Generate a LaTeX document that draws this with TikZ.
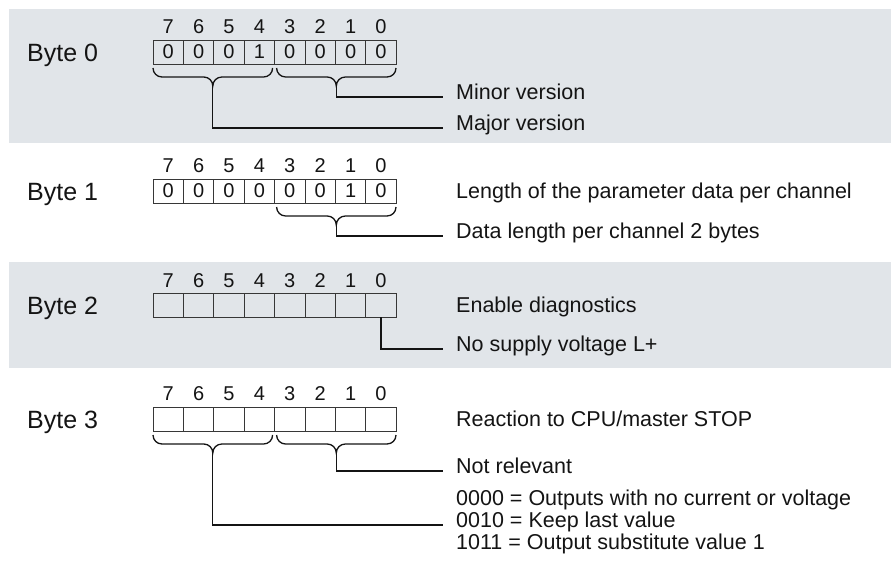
\documentclass[tikz,border=0pt]{standalone}
\usepackage{fontspec}
\setmainfont{Liberation Sans}
\definecolor{band}{RGB}{225,229,233}
\definecolor{ink}{RGB}{20,20,20}
\newcommand\bitbrace[4]{%
  \draw[conn] (#1,#3) .. controls (#1,#3+5) and (#1+4,#3+9) .. (#1+9,#3+9)
    -- ({(#1+#2)/2-9},#3+9) .. controls ({(#1+#2)/2-4},#3+9) and ({(#1+#2)/2},#3+13) .. ({(#1+#2)/2},#3+18)
    .. controls ({(#1+#2)/2},#3+13) and ({(#1+#2)/2+4},#3+9) .. ({(#1+#2)/2+9},#3+9)
    -- (#2-9,#3+9) .. controls (#2-4,#3+9) and (#2,#3+5) .. (#2,#3);
  \coordinate (#4) at ({(#1+#2)/2},#3+18);}
\newcommand\bitrow[4]{% #1 prefix, #2 box centre y, #3 numbers y, #4 values
  \foreach \v [count=\k from 0] in {#4}
    \node[cell] (#1c\k) at ({168.2+\k*30.4},#2) {\v};
  \foreach \n [count=\k from 0] in {7,6,5,4,3,2,1,0}
    \node[bitnum] (#1n\k) at ({168.2+\k*30.4},#3) {\n};}
\begin{document}
\begin{tikzpicture}[x=1pt,y=-1pt,
  cell/.style={draw=ink!85, line width=0.9pt, minimum width=30.4pt, minimum height=24pt,
    inner sep=0pt, font=\fontsize{20}{22}\selectfont, text=ink},
  bitnum/.style={inner sep=0pt, font=\fontsize{20}{22}\selectfont, text=ink},
  bytelab/.style={anchor=base west, inner sep=0pt, font=\fontsize{25}{28}\selectfont, text=ink},
  lab/.style={anchor=mid west, inner xsep=13pt, inner ysep=0pt,
    font=\fontsize{21.5}{24}\selectfont, text=ink},
  conn/.style={draw=ink, line width=1.3pt}]
\useasboundingbox (0,0) rectangle (891,574);
\fill[band] (9,9) rectangle (891,143);
\fill[band] (9,262) rectangle (891,368);

% Byte 0
\node[bytelab] (byte0) at (27,61) {Byte 0};
\bitrow{b0}{52}{27}{0,0,0,1,0,0,0,0}
\bitbrace{153}{272.6}{68}{b0tipL}
\bitbrace{276.6}{396}{68}{b0tipR}
\node[lab] (minor) at (443,97) {Minor version};
\node[lab] (major) at (443,128) {Major version};
\draw[conn] (b0tipR) |- (minor.mid west);
\draw[conn] (b0tipL) |- (major.mid west);

% Byte 1
\node[bytelab] (byte1) at (27,200) {Byte 1};
\bitrow{b1}{191}{166}{0,0,0,0,0,0,1,0}
\bitbrace{276.6}{396}{207}{b1tipR}
\node[lab] (len) at (443,196) {Length of the parameter data per channel};
\node[lab] (datalen) at (443,236) {Data length per channel 2 bytes};
\draw[conn] (b1tipR) |- (datalen.mid west);

% Byte 2
\node[bytelab] (byte2) at (27,314) {Byte 2};
\bitrow{b2}{305}{281}{{},{},{},{},{},{},{},{}}
\node[lab] (enable) at (443,310) {Enable diagnostics};
\node[lab] (nosupply) at (443,349) {No supply voltage L+};
\draw[conn] (b2c7.south) |- (nosupply.mid west);

% Byte 3
\node[bytelab] (byte3) at (27,428) {Byte 3};
\bitrow{b3}{419}{394}{{},{},{},{},{},{},{},{}}
\bitbrace{153}{272.6}{435}{b3tipL}
\bitbrace{276.6}{396}{435}{b3tipR}
\node[lab] (reaction) at (443,424) {Reaction to CPU/master STOP};
\node[lab] (notrel) at (443,471) {Not relevant};
\node[lab] (opt0) at (443,503) {0000 = Outputs with no current or voltage};
\node[lab] (opt1) at (443,525) {0010 = Keep last value};
\node[lab] (opt2) at (443,547) {1011 = Output substitute value 1};
\draw[conn] (b3tipR) |- (notrel.mid west);
\draw[conn] (b3tipL) |- (opt1.mid west);
\end{tikzpicture}
\end{document}
